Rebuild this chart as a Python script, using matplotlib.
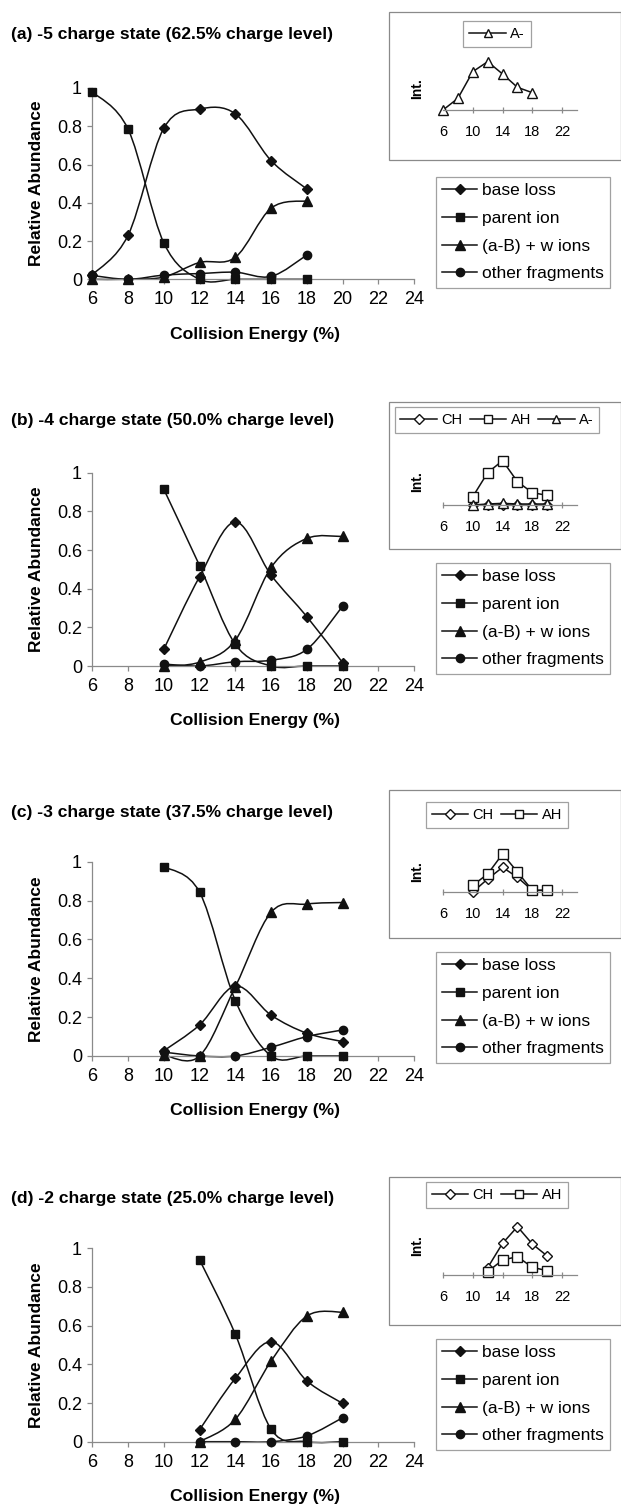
import numpy as np
import matplotlib
matplotlib.use("Agg")
import matplotlib.pyplot as plt
from matplotlib.path import Path
from matplotlib.patches import PathPatch, Rectangle
from matplotlib.lines import Line2D

plt.rcParams['font.family'] = ['Liberation Sans', 'DejaVu Sans']

W, H = 621, 1506

# ---------------- data ----------------
titles = ["(a) -5 charge state (62.5% charge level)",
          "(b) -4 charge state (50.0% charge level)",
          "(c) -3 charge state (37.5% charge level)",
          "(d) -2 charge state (25.0% charge level)"]

series_names = ["base loss", "parent ion", "(a-B) + w ions", "other fragments"]

energy_a = [6, 8, 10, 12, 14, 16, 18]
base_loss_a = [0.023, 0.23, 0.79, 0.89, 0.865, 0.62, 0.472]
parent_ion_a = [0.98, 0.785, 0.19, 0.0, 0.0, 0.0, 0.0]
ab_w_a = [0.0, 0.0, 0.012, 0.088, 0.115, 0.372, 0.41]
other_a = [0.02, 0.0, 0.022, 0.03, 0.037, 0.015, 0.127]

energy_b = [10, 12, 14, 16, 18, 20]
base_loss_b = [0.087, 0.462, 0.745, 0.47, 0.255, 0.017]
parent_ion_b = [0.914, 0.519, 0.112, 0.0, 0.0, 0.0]
ab_w_b = [0.0, 0.02, 0.134, 0.51, 0.66, 0.67]
other_b = [0.01, 0.0, 0.022, 0.03, 0.086, 0.31]

energy_c = [10, 12, 14, 16, 18, 20]
base_loss_c = [0.027, 0.16, 0.36, 0.21, 0.117, 0.074]
parent_ion_c = [0.975, 0.843, 0.285, 0.0, 0.0, 0.0]
ab_w_c = [0.005, 0.0, 0.357, 0.74, 0.782, 0.79]
other_c = [0.02, 0.0, 0.0, 0.045, 0.1, 0.134]

energy_d = [12, 14, 16, 18, 20]
base_loss_d = [0.062, 0.328, 0.517, 0.314, 0.198]
parent_ion_d = [0.94, 0.555, 0.064, 0.0, 0.0]
ab_w_d = [0.0, 0.116, 0.417, 0.65, 0.67]
other_d = [0.0, 0.0, 0.0, 0.03, 0.124]

# inset intensities (arbitrary units)
inset_a_A = [0, 35, 115, 145, 108, 68, 52]
inset_b_CH = [0, 0, 0, 0, 0, 0]
inset_b_AH = [25, 97, 133, 70, 37, 29]
inset_b_A = [0, 3, 5, 3, 3, 3]
inset_c_CH = [0, 39, 74, 44, 5, 5]
inset_c_AH = [20, 54, 114, 60, 5, 5]
inset_d_CH = [22, 95, 145, 93, 57]
inset_d_AH = [10, 45, 55, 23, 13]

main_data = [
    (energy_a, [base_loss_a, parent_ion_a, ab_w_a, other_a]),
    (energy_b, [base_loss_b, parent_ion_b, ab_w_b, other_b]),
    (energy_c, [base_loss_c, parent_ion_c, ab_w_c, other_c]),
    (energy_d, [base_loss_d, parent_ion_d, ab_w_d, other_d]),
]
inset_data = [
    [("A-", inset_a_A)],
    [("CH", inset_b_CH), ("AH", inset_b_AH), ("A-", inset_b_A)],
    [("CH", inset_c_CH), ("AH", inset_c_AH)],
    [("CH", inset_d_CH), ("AH", inset_d_AH)],
]

# ---------------- style / layout ----------------
main_markers = [("D", 5.4), ("s", 5.4), ("^", 6.8), ("o", 6.0)]
inset_markers = {"CH": ("D", 5.6), "AH": ("s", 6.6), "A-": ("^", 7.2)}
GRAY = "#8a8a8a"

# pixel positions of each panel: (axis y=0, axis y=1, title y, inset box top, inset box bottom,
#  inset legend top, inset baseline, Int. label y, main legend top)
panels = [
    (279.3, 88.0, 35, 12, 160, 21, 110, 89, 177),
    (666.0, 472.7, 421, 402, 549, 407, 505, 482, 563),
    (1056.0, 861.7, 812, 790, 938, 802, 892, 872, 952),
    (1441.7, 1248.3, 1198, 1177, 1325, 1182, 1275, 1246, 1339),
]
X_LEFT, X_RIGHT = 92.3, 414.2
IN_LEFT, IN_RIGHT = 443.0, 577.0


def fx(px):
    return px / W


def fy(py):
    return 1 - py / H


def smooth_path(x, y):
    pts = np.column_stack([x, y]).astype(float)
    n = len(pts)
    verts = [pts[0]]
    codes = [Path.MOVETO]
    for i in range(n - 1):
        p0 = pts[i - 1] if i > 0 else pts[i]
        p1, p2 = pts[i], pts[i + 1]
        p3 = pts[i + 2] if i + 2 < n else pts[i + 1]
        verts += [p1 + (p2 - p0) / 6, p2 - (p3 - p1) / 6, p2]
        codes += [Path.CURVE4] * 3
    return Path(verts, codes)


fig = plt.figure(figsize=(W / 100, H / 100), dpi=100)

for k, (y0, y1, ty, bx_top, bx_bot, ilg_top, base, int_y, lg_top) in enumerate(panels):
    energy, series = main_data[k]

    # ---- main plot ----
    ax = fig.add_axes([fx(X_LEFT), fy(y0), fx(X_RIGHT) - fx(X_LEFT), (y0 - y1) / H])
    for vals, (m, ms) in zip(series, main_markers):
        ax.add_patch(PathPatch(smooth_path(energy, vals), facecolor="none",
                               edgecolor="#111111", lw=1.1, clip_on=False, zorder=2))
        ax.plot(energy, vals, ls="none", marker=m, ms=ms, color="#111111",
                clip_on=False, zorder=3)
    ax.set_xlim(6, 24)
    ax.set_ylim(0, 1)
    ax.set_xticks(range(6, 25, 2))
    ax.set_yticks([0, 0.2, 0.4, 0.6, 0.8, 1])
    ax.set_yticklabels(["0", "0.2", "0.4", "0.6", "0.8", "1"])
    for s in ["top", "right"]:
        ax.spines[s].set_visible(False)
    for s in ["left", "bottom"]:
        ax.spines[s].set_color(GRAY)
        ax.spines[s].set_linewidth(0.9)
    ax.tick_params(axis="both", color=GRAY, length=3.5, width=0.9, labelsize=13)
    ax.tick_params(axis="x", pad=5)
    ax.tick_params(axis="y", pad=4)
    ax.patch.set_visible(False)

    fig.text(fx(11), fy(ty), titles[k], fontsize=12.6, fontweight="bold",
             ha="left", va="center")
    fig.text(fx(37), fy((y0 + y1) / 2), "Relative Abundance", fontsize=12.5,
             fontweight="bold", rotation=90, ha="center", va="center")
    fig.text(fx(255), fy(y0 + 55), "Collision Energy (%)", fontsize=12.6,
             fontweight="bold", ha="center", va="center")

    handles = [Line2D([], [], color="#111111", lw=1.1, marker=m, ms=ms)
               for (m, ms) in main_markers]
    leg = ax.legend(handles, series_names, loc="upper left",
                    bbox_to_anchor=(fx(436), fy(lg_top)), bbox_transform=fig.transFigure,
                    borderaxespad=0, fontsize=12.5, handlelength=2.0, handletextpad=0.3,
                    labelspacing=0.72, borderpad=0.36, fancybox=False, frameon=True)
    leg.get_frame().set_edgecolor(GRAY)
    leg.get_frame().set_linewidth(0.9)

    # ---- inset ----
    fig.patches.append(Rectangle((fx(389), fy(bx_bot)), fx(620.5) - fx(389),
                                 (bx_bot - bx_top) / H, transform=fig.transFigure,
                                 facecolor="none", edgecolor=GRAY, lw=0.9))
    iax = fig.add_axes([fx(IN_LEFT), fy(base), fx(IN_RIGHT) - fx(IN_LEFT), 60 / H])
    ihandles, ilabels = [], []
    for name, vals in inset_data[k]:
        m, ms = inset_markers[name]
        iax.plot(energy, vals, color="#111111", lw=1.1, marker=m, ms=ms,
                 markerfacecolor="white", markeredgecolor="#111111", mew=1.0,
                 clip_on=False)
        ihandles.append(Line2D([], [], color="#111111", lw=1.1, marker=m, ms=ms - 1,
                               markerfacecolor="white", markeredgecolor="#111111", mew=1.0))
        ilabels.append(name)
    iax.set_xlim(6, 24)
    iax.set_ylim(0, 180)
    iax.set_xticks([6, 10, 14, 18, 22])
    iax.set_yticks([])
    for s in ["top", "right", "left"]:
        iax.spines[s].set_visible(False)
    iax.spines["bottom"].set_color(GRAY)
    iax.spines["bottom"].set_linewidth(0.9)
    iax.tick_params(axis="x", color=GRAY, direction="inout", length=4, width=0.9,
                    labelsize=10.5, pad=9)
    iax.patch.set_visible(False)
    fig.text(fx(417), fy(int_y), "Int.", fontsize=10, fontweight="bold",
             rotation=90, ha="center", va="center")
    ileg = iax.legend(ihandles, ilabels, loc="upper center", ncol=len(ilabels),
                      bbox_to_anchor=(fx(497), fy(ilg_top)), bbox_transform=fig.transFigure,
                      borderaxespad=0, fontsize=10.5, handlelength=2.5, handletextpad=0.3,
                      columnspacing=0.5, borderpad=0.4, fancybox=False, frameon=True)
    ileg.get_frame().set_edgecolor(GRAY)
    ileg.get_frame().set_linewidth(0.9)

fig.savefig("out.png", dpi=100)
